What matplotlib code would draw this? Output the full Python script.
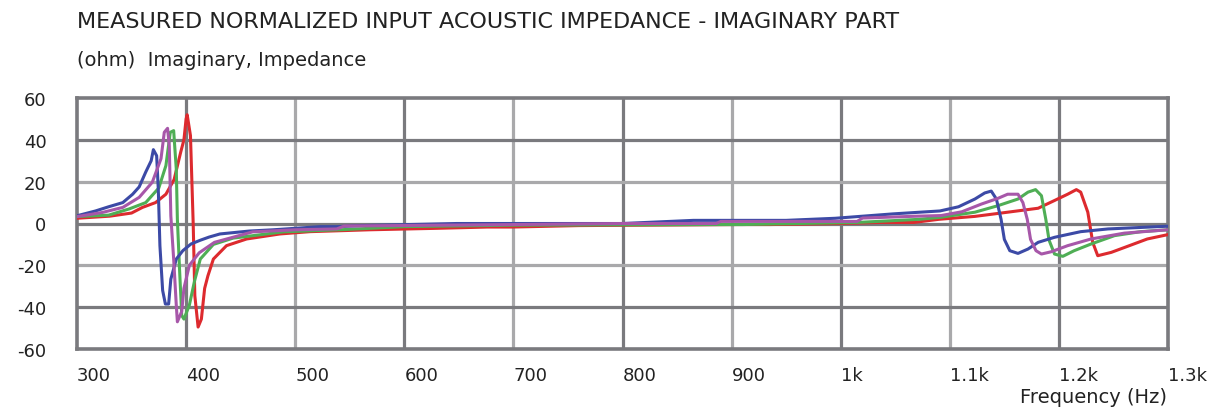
import matplotlib
matplotlib.use("Agg")
import matplotlib.pyplot as plt

plt.rcParams["axes.unicode_minus"] = False

# measured curves (frequency in Hz, imaginary impedance in ohm)
blue_f = [300, 317, 329, 342, 351, 357, 363, 368, 370, 373, 374.5, 376, 378.5, 381, 384, 386,
          391, 397, 404.5, 413, 421, 431, 458, 480, 523, 538, 560, 648, 666, 700, 760, 800,
          865, 886, 950, 995, 1048, 1091, 1108, 1123, 1132, 1138, 1142.7, 1147, 1150, 1155,
          1162.5, 1171.7, 1181, 1196, 1220, 1245, 1300]
blue_v = [3.7, 6, 8, 10, 14, 17.5, 24.6, 30, 35.3, 32.4, 16.5, -10.6, -32, -38.5, -38.5, -26.6,
          -17, -13, -9.8, -8, -6.5, -5, -3.6, -3, -1.5, -1.5, -1, 0, 0, 0, 0, 0,
          1.5, 1.5, 1.5, 2.5, 4.6, 6, 8, 11.7, 14.6, 15.5, 11.7, 2, -7.6, -13,
          -14.3, -12.2, -9, -6.6, -3.9, -2.6, -1.3]

purple_f = [300, 323.5, 342, 357, 369, 377, 380, 383, 384.6, 386, 388.6, 391, 392, 396, 398,
            403, 412, 426, 461, 500, 538, 545, 700, 800, 886, 890, 1015, 1020, 1070, 1092,
            1111, 1129, 1144, 1153, 1162.5, 1167, 1171, 1174, 1179, 1184, 1193, 1208, 1229.5,
            1260, 1300]
purple_v = [3.3, 5.3, 7.7, 12.5, 19.7, 31, 43.6, 45.5, 37, 3.7, -17, -39, -47, -42, -31,
            -20, -14, -9, -4, -3, -2.6, -1.2, -0.5, 0, 0, 1, 1, 2.6, 3.5, 3.8,
            5.6, 9.3, 12, 14, 14, 10, 2, -7.6, -13, -14.6, -13.5, -10.6, -7.4,
            -4.6, -3]

green_f = [300, 329, 348, 363, 375, 381.5, 385.5, 388.6, 391, 392, 394, 396, 398, 403, 407.5,
           413, 425, 443, 489, 545, 600, 700, 890, 910, 1015, 1072, 1092, 1123, 1144, 1162.5,
           1171.7, 1178.6, 1184, 1188, 1191, 1196, 1203.6, 1214, 1229.5, 1251, 1275, 1300]
green_v = [3.3, 4, 7, 10, 17, 27.7, 43.6, 44.4, 26, 2, -22, -44, -45.7, -39, -28,
           -17, -10, -7, -4, -2.9, -1.5, -0.8, -0.5, -0.5, 0.5, 2, 3, 5.4, 8.5, 11.7,
           15, 16.2, 13.3, 2, -8, -14.6, -15.7, -13, -9.8, -5.8, -3.9, -3]

red_f = [300, 330, 350, 360, 372, 381.5, 389, 395, 398, 400, 401, 404, 406.5, 408, 411, 414,
         417, 420, 425, 437, 455.5, 486, 513.6, 568.6, 630, 676, 699, 760, 905, 935, 1000,
         1035, 1067, 1090, 1123, 1153, 1181, 1196, 1208, 1216, 1220, 1226.5, 1231, 1235.6,
         1248, 1263, 1281, 1300]
red_v = [2.5, 3.5, 5, 7.7, 10, 14, 21, 34, 40, 50, 52, 42, 0, -34.5, -49.5, -45.7,
         -31, -25, -17, -10.6, -7.4, -5, -3.9, -3, -2.3, -1.7, -1.7, -1, -0.5, -0.5, 0,
         0.5, 0.5, 2, 3.4, 5.4, 7.3, 11, 14, 16.2, 15, 5.4, -9, -15.4,
         -13.8, -10.9, -7.4, -5.3]

x_ticks = [300, 400, 500, 600, 700, 800, 900, 1000, 1100, 1200, 1300]
x_labels = ["300", "400", "500", "600", "700", "800", "900", "1k", "1.1k", "1.2k", "1.3k"]
y_ticks = [-60, -40, -20, 0, 20, 40, 60]

dark = "#7a7a7e"
light = "#a9a9ab"
txt = "#222222"

fig = plt.figure(figsize=(12.24, 4.10), dpi=100)
ax = fig.add_axes([77 / 1224, 1 - 350 / 410, 1091 / 1224, 251 / 410])

# alternating dark/light grid lines
for i, t in enumerate(x_ticks[1:-1]):
    ax.axvline(t, color=dark if i % 2 == 0 else light, lw=2.3, zorder=1)
for t in y_ticks[1:-1]:
    ax.axhline(t, color=dark if t % 40 == 0 else light, lw=2.3, zorder=1)

lw = 2.2
ax.plot(red_f, red_v, color="#dd2a2e", lw=lw, zorder=3)
ax.plot(green_f, green_v, color="#4fae55", lw=lw, zorder=3)
ax.plot(blue_f, blue_v, color="#3c4aa6", lw=lw, zorder=3)
ax.plot(purple_f, purple_v, color="#a757a9", lw=lw, zorder=3)

ax.set_xlim(300, 1300)
ax.set_ylim(-60, 60)
ax.set_xticks(x_ticks)
ax.set_xticklabels(x_labels, ha="left")
ax.set_yticks(y_ticks)
ax.tick_params(axis="both", length=0, labelsize=13, colors=txt)
ax.tick_params(axis="y", pad=22)
ax.tick_params(axis="x", pad=12)
for s in ax.spines.values():
    s.set_color(dark)
    s.set_linewidth(2.6)

fig.text(77 / 1224, 1 - 22 / 410, "MEASURED NORMALIZED INPUT ACOUSTIC IMPEDANCE - IMAGINARY PART",
         fontsize=16, color=txt, ha="left", va="center")
fig.text(77 / 1224, 1 - 60 / 410, "(ohm)  Imaginary, Impedance",
         fontsize=14, color=txt, ha="left", va="center")
fig.text(1167 / 1224, 1 - 398 / 410, "Frequency (Hz)",
         fontsize=14, color=txt, ha="right", va="center")

fig.savefig("out.png", dpi=100)
